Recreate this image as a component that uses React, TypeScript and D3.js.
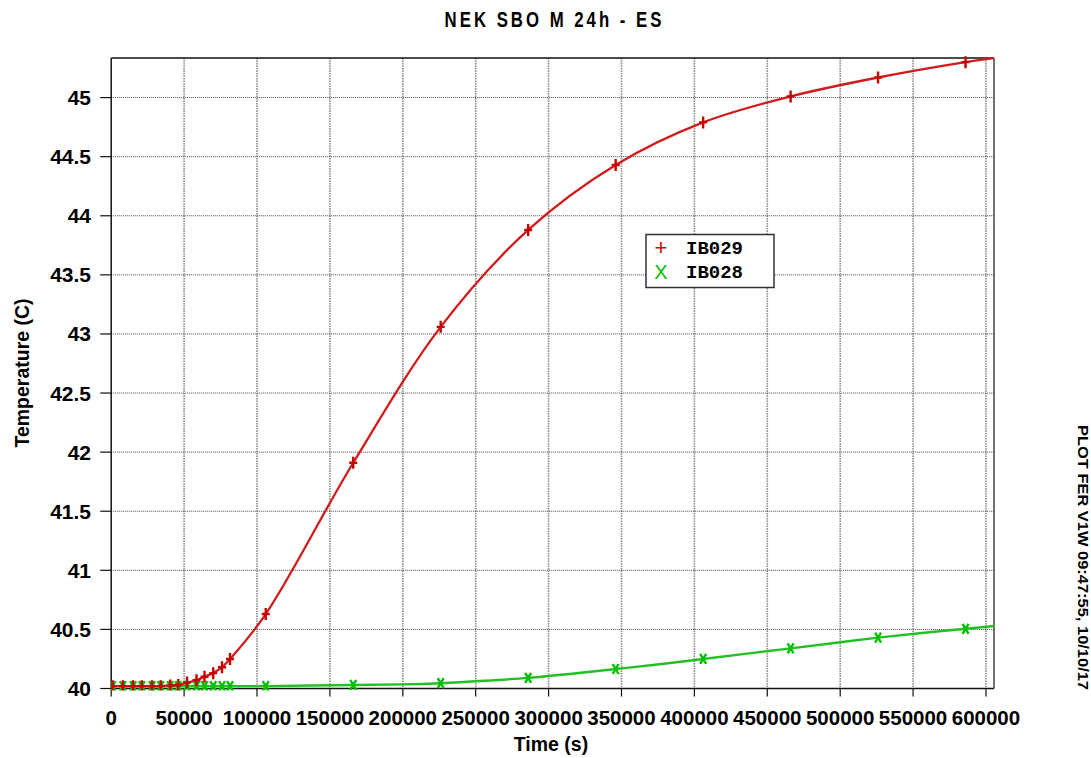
import React from "react";
import * as d3 from "d3";

const title = "NEK SBO M 24h - ES";
const xLabel = "Time (s)";
const yLabel = "Temperature (C)";
const sideNote = "PLOT FER V1W 09:47:55, 10/10/17";

const xTicks = [0, 50000, 100000, 150000, 200000, 250000, 300000, 350000, 400000, 450000, 500000, 550000, 600000];
const yTicks = [40, 40.5, 41, 41.5, 42, 42.5, 43, 43.5, 44, 44.5, 45];

// marker sample times and values
const markTimes = [1000, 8000, 15000, 21000, 28000, 34000, 40500, 46000, 52000, 58500, 64000, 70000, 76000, 81500,
  106000, 166000, 226000, 286000, 346000, 406000, 466000, 526000, 586000];
const ib029Marks = [40.02, 40.02, 40.02, 40.02, 40.02, 40.02, 40.025, 40.03, 40.05, 40.07, 40.1, 40.13, 40.18, 40.25,
  40.63, 41.91, 43.06, 43.88, 44.43, 44.79, 45.01, 45.17, 45.3];
const ib028Marks = [40.02, 40.02, 40.02, 40.02, 40.02, 40.02, 40.02, 40.02, 40.02, 40.02, 40.02, 40.02, 40.02, 40.02,
  40.02, 40.03, 40.045, 40.09, 40.165, 40.25, 40.34, 40.43, 40.505];

// additional curve points read between markers
const ib029ExtraT = [0, 606000];
const ib029ExtraV = [40.02, 45.335];
const ib028ExtraT = [0, 200000, 256000, 316000, 376000, 436000, 496000, 556000, 606000];
const ib028ExtraV = [40.02, 40.035, 40.065, 40.125, 40.205, 40.295, 40.385, 40.47, 40.53];

const W = 1091, H = 758;
const L = 111.2, R = 994, T = 58, B = 688.5;
const RED = "#c80000";
const GREEN = "#00c000";

function merge(t1: number[], v1: number[], t2: number[], v2: number[]) {
  const pts: [number, number][] = [];
  t1.forEach((t, i) => pts.push([t, v1[i]]));
  t2.forEach((t, i) => pts.push([t, v2[i]]));
  pts.sort((a, b) => a[0] - b[0]);
  return pts;
}

export default function App() {
  const x = d3.scaleLinear().domain([0, 605500]).range([L, R]);
  const y = d3.scaleLinear().domain([40, 45.335]).range([B, T]);
  const line = d3.line<[number, number]>().x(d => x(d[0])).y(d => y(d[1])).curve(d3.curveCatmullRom.alpha(0.5));
  const redPts = merge(markTimes, ib029Marks, ib029ExtraT, ib029ExtraV);
  const greenPts = merge(markTimes, ib028Marks, ib028ExtraT, ib028ExtraV);
  const font = "'Liberation Sans', Arial, sans-serif";
  const mono = "'Liberation Mono', 'Courier New', monospace";

  return (
    <svg width={W} height={H} style={{ position: "absolute", left: 0, top: 0, background: "#fff" }}
      fontFamily={font}>
      <defs>
        <clipPath id="plotClip">
          <rect x={L} y={T - 2} width={R - L} height={B - T + 4} />
        </clipPath>
      </defs>
      <rect x={0} y={0} width={W} height={H} fill="#fff" />
      {/* grid */}
      {xTicks.filter(t => t > 0).map(t => (
        <line key={"gx" + t} x1={x(t)} x2={x(t)} y1={T} y2={B} stroke="#8a8a8a" strokeWidth={1.6} strokeDasharray="1.5,1" />
      ))}
      {yTicks.filter(t => t > 40).map(t => (
        <line key={"gy" + t} x1={L} x2={R} y1={y(t)} y2={y(t)} stroke="#444" strokeWidth={1} strokeDasharray="1,1" />
      ))}
      {/* frame */}
      <line x1={L} x2={R} y1={T} y2={T} stroke="#111" strokeWidth={1.5} />
      <line x1={R} x2={R} y1={T} y2={B} stroke="#444" strokeWidth={1.5} />
      <line x1={L} x2={L} y1={T} y2={B} stroke="#111" strokeWidth={1.5} />
      <line x1={L} x2={R} y1={B} y2={B} stroke="#111" strokeWidth={1.5} />
      {/* ticks */}
      {xTicks.map(t => (
        <g key={"xt" + t}>
          <line x1={x(t)} x2={x(t)} y1={B} y2={B + 8} stroke="#111" strokeWidth={1.2} />
          <text x={x(t)} y={725} textAnchor="middle" fontSize={20.5} fontWeight="bold" fill="#000">{t}</text>
        </g>
      ))}
      {yTicks.map(t => (
        <g key={"yt" + t}>
          <line x1={L - 11} x2={L} y1={y(t)} y2={y(t)} stroke="#111" strokeWidth={1.2} />
          <text x={91} y={y(t) + 7.5} textAnchor="end" fontSize={21} fontWeight="bold" fill="#000">{t}</text>
        </g>
      ))}
      {/* series */}
      <g clipPath="url(#plotClip)">
        <path d={line(greenPts) || ""} fill="none" stroke="#22c022" strokeWidth={2.4} />
        <path d={line(redPts) || ""} fill="none" stroke="#d01c1c" strokeWidth={2.3} />
        {markTimes.map((t, i) => (
          <path key={"gm" + i} d={`M${x(t) - 3},${y(ib028Marks[i]) - 5}L${x(t) + 3},${y(ib028Marks[i]) + 5}M${x(t) + 3},${y(ib028Marks[i]) - 5}L${x(t) - 3},${y(ib028Marks[i]) + 5}`}
            stroke={GREEN} strokeWidth={2.4} fill="none" />
        ))}
        {markTimes.map((t, i) => (
          <path key={"rm" + i} d={`M${x(t)},${y(ib029Marks[i]) - 6}V${y(ib029Marks[i]) + 6}M${x(t) - 4},${y(ib029Marks[i])}H${x(t) + 4}`}
            stroke={RED} strokeWidth={2.4} fill="none" />
        ))}
      </g>
      {/* legend */}
      <rect x={646} y={234.5} width={128} height={53} fill="#fff" stroke="#333" strokeWidth={1.5} />
      <text x={661} y={255} textAnchor="middle" fontSize={22} fill={RED}>+</text>
      <text x={661} y={279} textAnchor="middle" fontSize={20} fill={GREEN}>X</text>
      <text x={686} y={254} fontSize={19} fontWeight="bold" fontFamily={mono} fill="#000">IB029</text>
      <text x={686} y={277.5} fontSize={19} fontWeight="bold" fontFamily={mono} fill="#000">IB028</text>
      {/* title */}
      <g transform="translate(553,26.5) scale(0.78,1)">
        <text x={0} y={0} textAnchor="middle" fontSize={21.5} fontWeight="bold" textLength={278} lengthAdjust="spacing" fill="#000">{title}</text>
      </g>
      {/* axis labels */}
      <text x={551} y={751} textAnchor="middle" fontSize={19.5} fontWeight="bold" fill="#000">{xLabel}</text>
      <text transform={`translate(29,373) rotate(-90)`} textAnchor="middle" fontSize={19.5} fontWeight="bold" fill="#000">{yLabel}</text>
      {/* side note */}
      <text transform={`translate(1078,557.5) rotate(90)`} textAnchor="middle" fontSize={15} fontWeight="bold" textLength={265} lengthAdjust="spacingAndGlyphs" fill="#000">{sideNote}</text>
    </svg>
  );
}
